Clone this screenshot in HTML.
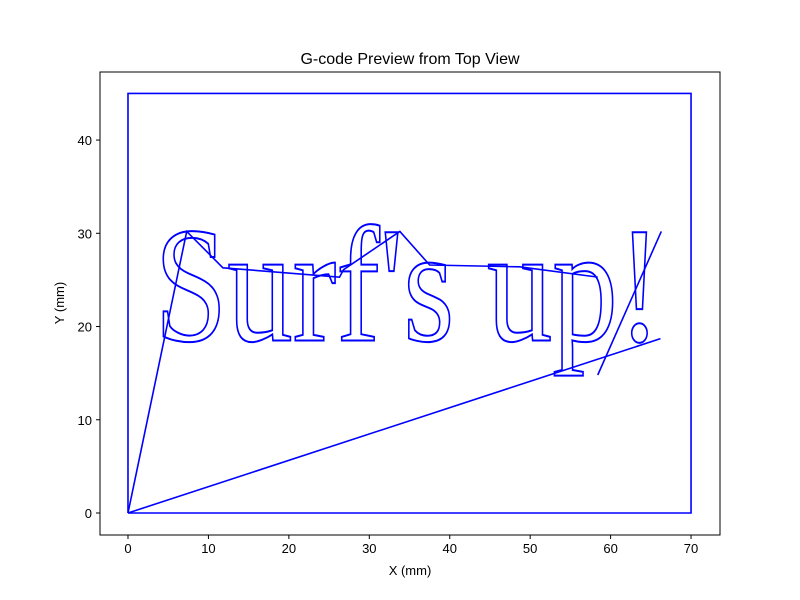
<!DOCTYPE html>
<html><head><meta charset="utf-8"><style>
body{margin:0;background:#fff}
svg{display:block;font-family:"Liberation Sans","DejaVu Sans",sans-serif}
</style></head><body>
<svg width="800" height="600" viewBox="0 0 800 600">
<rect width="800" height="600" fill="#fff"/>
<text x="410" y="64" text-anchor="middle" font-size="16">G-code Preview from Top View</text>
<g id="plot"></g>
<g id="axes"></g>
<text x="410" y="575" text-anchor="middle" font-size="13">X (mm)</text>
<text transform="translate(64,303) rotate(-90)" text-anchor="middle" font-size="13">Y (mm)</text>
</svg>
<script>
const xTicks=[0,10,20,30,40,50,60,70];
const yTicks=[0,10,20,30,40];
const borderX=[0,70,70,0,0];
const borderY=[0,0,45,45,0];
const travelX=[0,7.3,11.8,26.3,26.8,33.8,37.5,48.7,58.4];
const travelY=[0,30.2,26.3,25.3,26.1,30.2,26.6,26.4,25.3];
const travel2X=[0,66.2];
const travel2Y=[0,18.7];
const travel3X=[58.4,66.3];
const travel3Y=[14.8,30.2];
const textLabel="Surf's up!";
const textX=[3.3,66.3];
const textBaseY=18.5;
const capY=30.2;

const L=100,R=720,T=72,B=535;
const xMin=-3.48,xMax=73.6,yMin=-2.36,yMax=47.3;
const sx=v=>L+(v-xMin)/(xMax-xMin)*(R-L);
const sy=v=>B-(v-yMin)/(yMax-yMin)*(B-T);
const NS="http://www.w3.org/2000/svg";
const plot=document.getElementById('plot');
const axes=document.getElementById('axes');
function mk(tag,attrs,parent){const e=document.createElementNS(NS,tag);for(const k in attrs)e.setAttribute(k,attrs[k]);parent.appendChild(e);return e;}
function line(xs,ys,name){
  const p=mk('polyline',{points:xs.map((x,i)=>sx(x)+','+sy(ys[i])).join(' '),fill:'none',stroke:'#0000ff','stroke-width':1.6},plot);
  
  
}
line(borderX,borderY,'border-path');
line(travelX,travelY,'travel-path');
line(travel2X,travel2Y,'travel-path-2');
line(travel3X,travel3Y,'travel-path-3');
const capPx=sy(textBaseY)-sy(capY);
const t=mk('text',{x:sx(textX[0]),y:sy(textBaseY),'font-size':capPx/0.66,'font-family':'"Liberation Serif",serif',fill:'none',stroke:'#0000ff','stroke-width':2,textLength:sx(textX[1])-sx(textX[0]),lengthAdjust:'spacingAndGlyphs'},plot);
t.textContent=textLabel;


const fr=mk('rect',{x:L,y:T,width:R-L,height:B-T,fill:'none',stroke:'#000','stroke-width':1},axes);


xTicks.forEach(v=>{
  mk('line',{x1:sx(v),x2:sx(v),y1:B,y2:B+4,stroke:'#000'},axes);
  const tx=mk('text',{x:sx(v),y:B+18,'text-anchor':'middle','font-size':13},axes);
  tx.textContent=v;
  
  
});
yTicks.forEach(v=>{
  mk('line',{x1:L-4,x2:L,y1:sy(v),y2:sy(v),stroke:'#000'},axes);
  const tx=mk('text',{x:L-8,y:sy(v)+5,'text-anchor':'end','font-size':13},axes);
  tx.textContent=v;
  
  
});
</script>
</body></html>
